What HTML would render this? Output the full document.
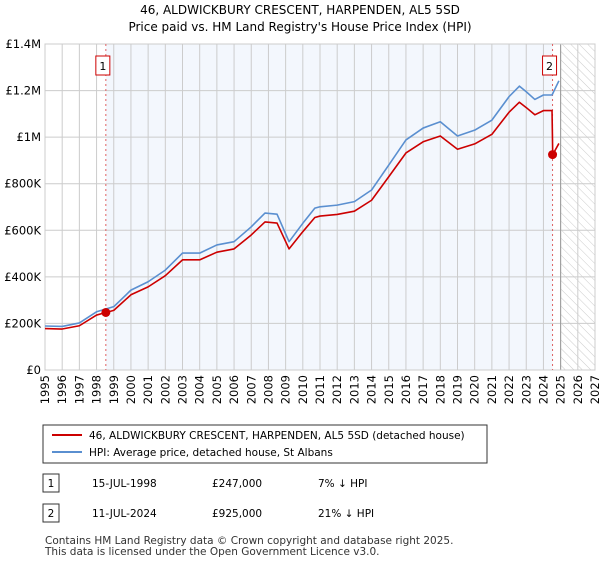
<!DOCTYPE html>
<html><head><meta charset="utf-8"><style>
body{margin:0;background:#fff;font-family:"DejaVu Sans","Liberation Sans",sans-serif;}
</style></head><body>
<svg width="600" height="560" xmlns="http://www.w3.org/2000/svg" style="font-family:'DejaVu Sans','Liberation Sans',sans-serif">
<defs><pattern id="hatch" width="6" height="6" patternUnits="userSpaceOnUse" patternTransform="rotate(-45)"><line x1="0" y1="0" x2="0" y2="6" stroke="#ccc" stroke-width="1"/></pattern></defs>
<text x="300" y="14" text-anchor="middle" font-size="12">46, ALDWICKBURY CRESCENT, HARPENDEN, AL5 5SD</text>
<text x="300" y="31" text-anchor="middle" font-size="12">Price paid vs. HM Land Registry's House Price Index (HPI)</text>
<g id="plot"></g>
<g>
<rect x="43" y="425" width="444" height="38" fill="#fff" stroke="#333" stroke-width="1"/>
<line x1="52" y1="435" x2="82" y2="435" stroke="#cc0000" stroke-width="2"/>
<text x="89" y="439" font-size="10.5">46, ALDWICKBURY CRESCENT, HARPENDEN, AL5 5SD (detached house)</text>
<line x1="52" y1="452" x2="82" y2="452" stroke="#5a8fd0" stroke-width="2"/>
<text x="89" y="456" font-size="10.5">HPI: Average price, detached house, St Albans</text>
</g>
<g font-size="10.5">
<rect x="43" y="474" width="16" height="18" fill="#fff" stroke="#333"/><text x="51" y="487" text-anchor="middle">1</text>
<text x="92" y="487">15-JUL-1998</text><text x="212" y="487">£247,000</text><text x="318" y="487">7% ↓ HPI</text>
<rect x="43" y="504" width="16" height="18" fill="#fff" stroke="#333"/><text x="51" y="517" text-anchor="middle">2</text>
<text x="92" y="517">11-JUL-2024</text><text x="212" y="517">£925,000</text><text x="318" y="517">21% ↓ HPI</text>
</g>
<text x="45" y="544" font-size="10.5" fill="#333">Contains HM Land Registry data © Crown copyright and database right 2025.</text>
<text x="45" y="555" font-size="10.5" fill="#333">This data is licensed under the Open Government Licence v3.0.</text>
</svg>
<script>
const hpiYears=[1995,1996,1997,1998,1998.54,1999,2000,2001,2002,2003,2004,2005,2006,2007,2007.8,2008.5,2009.2,2010,2010.7,2011,2012,2013,2014,2015,2016,2017,2018,2019,2020,2021,2022,2022.6,2023,2023.5,2024,2024.5,2024.9];
const hpiValues=[189,187,202,250,262,272,343,379,429,502,502,537,551,615,674,669,551,630,695,701,708,723,773,880,988,1039,1066,1005,1030,1073,1174,1219,1195,1162,1181,1181,1242];
const priceYears=[1995,1996,1997,1998,1998.54,1999,2000,2001,2002,2003,2004,2005,2006,2007,2007.8,2008.5,2009.2,2010,2010.7,2011,2012,2013,2014,2015,2016,2017,2018,2019,2020,2021,2022,2022.6,2023,2023.5,2024,2024.5,2024.54,2024.9];
const priceValues=[178,176,190,236,247,256,323,357,405,473,473,506,520,580,636,631,520,594,655,661,668,682,729,830,932,980,1005,948,971,1012,1107,1150,1127,1096,1114,1114,925,973];
const saleYears=[1998.54,2024.53];
const saleValues=[247,925];
const saleLabels=["1","2"];
const yTicks=[0,200,400,600,800,1000,1200,1400];
const yTickLabels=["£0","£200K","£400K","£600K","£800K","£1M","£1.2M","£1.4M"];
const xTicks=[1995,1996,1997,1998,1999,2000,2001,2002,2003,2004,2005,2006,2007,2008,2009,2010,2011,2012,2013,2014,2015,2016,2017,2018,2019,2020,2021,2022,2023,2024,2025,2026,2027];
const X0=45,X1=595,Y0=370,Y1=44;
const xs=y=>X0+(y-1995)/(2027-1995)*(X1-X0);
const ys=v=>Y0-v/1400*(Y0-Y1);
const NS="http://www.w3.org/2000/svg";
const g=document.getElementById('plot');
function mk(t,a,p){const e=document.createElementNS(NS,t);for(const k in a)e.setAttribute(k,a[k]);(p||g).appendChild(e);return e;}
mk('rect',{x:xs(saleYears[0]),y:Y1,width:xs(saleYears[1])-xs(saleYears[0]),height:Y0-Y1,fill:'#f3f7fd'});
const h=mk('rect',{x:xs(2025),y:Y1,width:X1-xs(2025),height:Y0-Y1,fill:'url(#hatch)'});


yTicks.forEach((v,i)=>{
 mk('line',{x1:X0,x2:X1,y1:ys(v),y2:ys(v),stroke:'#ccc','stroke-width':1});
 const t=mk('text',{x:X0-4,y:ys(v)+4,'text-anchor':'end','font-size':11.5});t.textContent=yTickLabels[i];
 
 
});
xTicks.forEach(y=>{
 mk('line',{x1:xs(y),x2:xs(y),y1:Y1,y2:Y0,stroke:'#ccc','stroke-width':1});
 const px=xs(y)+4,py=Y0+5;
 const t=mk('text',{x:px,y:py,'text-anchor':'end','font-size':11.5,transform:'rotate(-90 '+px+' '+py+')'});t.textContent=y;
 
 
});
mk('line',{x1:xs(2025),x2:xs(2025),y1:Y1,y2:Y0,stroke:'#999','stroke-width':1});
mk('rect',{x:X0,y:Y1,width:X1-X0,height:Y0-Y1,fill:'none',stroke:'#ccc'});
saleYears.forEach(y=>mk('line',{x1:xs(y),x2:xs(y),y1:Y1,y2:Y0,stroke:'#e06060','stroke-dasharray':'2,3','stroke-width':1}));
function line(xa,va,c,name){const l=mk('polyline',{points:xa.map((y,i)=>xs(y)+','+ys(va[i])).join(' '),fill:'none',stroke:c,'stroke-width':1.6,'stroke-linejoin':'round'});
 
 }
line(hpiYears,hpiValues,'#5a8fd0','hpi-line');
line(priceYears,priceValues,'#cc0000','price-paid-line');
saleYears.forEach((y,i)=>{
 const c=mk('circle',{cx:xs(y),cy:ys(saleValues[i]),r:4.5,fill:'#cc0000'});
 
 
 const bx=xs(y)-9;
 mk('rect',{x:bx-1,y:56,width:14,height:19,fill:'#fff',stroke:'#cc0000'});
 const t=mk('text',{x:bx+6,y:70,'text-anchor':'middle','font-size':11});t.textContent=saleLabels[i];
 
 
});
</script>
</body></html>
